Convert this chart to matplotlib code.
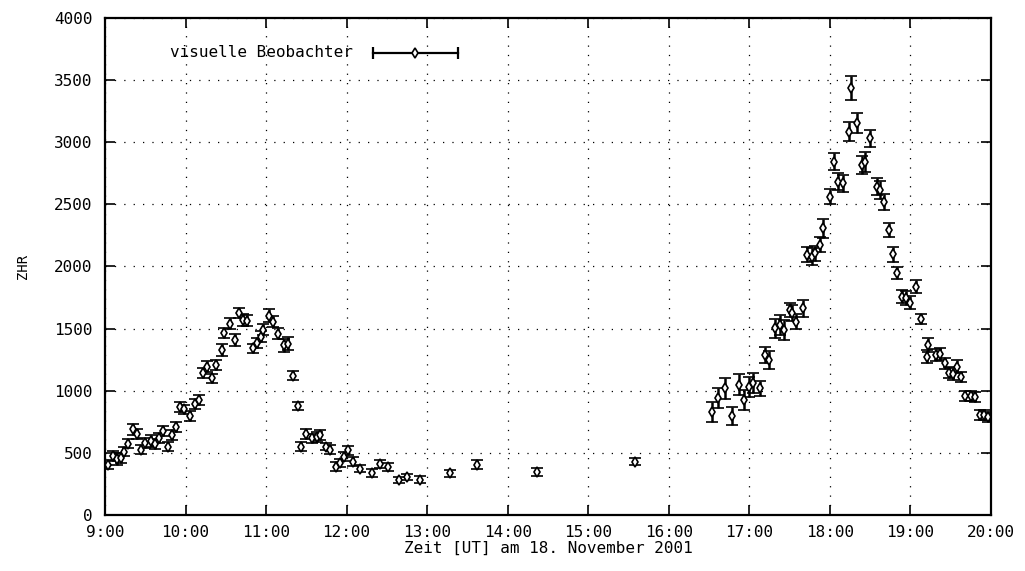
#!/usr/bin/env python3
# -*- coding: utf-8 -*-
"""ZHR der Leoniden 2001, visuelle Beobachtungen (gnuplot-Optik)"""

import matplotlib
matplotlib.use('Agg')
import matplotlib.pyplot as plt
from matplotlib.ticker import FixedLocator, FuncFormatter

# Zeitpunkte (UT) und ZHR mit Fehlern
times = [
    '9:02', '9:06', '9:09', '9:12', '9:14', '9:17', '9:21', '9:24', '9:27', '9:30',
    '9:34', '9:37', '9:40', '9:43', '9:47', '9:50', '9:53', '9:56', '9:59', '10:03',
    '10:07', '10:10', '10:13', '10:16', '10:20', '10:23', '10:27', '10:29', '10:33', '10:37',
    '10:40', '10:43', '10:46', '10:50', '10:53', '10:56', '10:58', '11:02', '11:05', '11:09',
    '11:13', '11:16', '11:20', '11:24', '11:26', '11:30', '11:34', '11:38', '11:40', '11:45',
    '11:48', '11:52', '11:55', '11:58', '12:01', '12:05', '12:10', '12:19', '12:25', '12:31',
    '12:39', '12:45', '12:55', '13:17', '13:37', '14:22', '15:35',
    '16:32', '16:37', '16:42', '16:47', '16:52', '16:56', '17:00', '17:03', '17:08', '17:12',
    '17:15', '17:19', '17:23', '17:26', '17:30', '17:32', '17:35', '17:40', '17:43', '17:47',
    '17:49', '17:53', '17:55', '18:00', '18:03', '18:06', '18:10', '18:14', '18:16', '18:20',
    '18:24', '18:26', '18:30', '18:35', '18:37', '18:40', '18:44', '18:47', '18:50', '18:54',
    '18:57', '19:00', '19:04', '19:08', '19:12', '19:13', '19:19', '19:22', '19:26', '19:29',
    '19:32', '19:35', '19:38', '19:41', '19:45', '19:48', '19:52', '19:55', '19:58',
]
zhr = [
    405, 475, 450, 460, 510, 575, 690, 650, 525, 578,
    595, 572, 622, 675, 550, 640, 710, 870, 850, 800,
    890, 925, 1140, 1195, 1100, 1207, 1330, 1465, 1540, 1410,
    1625, 1570, 1562, 1342, 1382, 1435, 1490, 1605, 1555, 1460,
    1365, 1380, 1121, 877, 550, 655, 618, 630, 645, 550,
    525, 390, 418, 470, 520, 430, 372, 338, 412, 388,
    282, 305, 285, 336, 405, 345, 430,
    832, 939, 1020, 797, 1047, 926, 1033, 1060, 1020, 1288,
    1248, 1503, 1530, 1489, 1650, 1624, 1556, 1664, 2093, 2080,
    2107, 2174, 2308, 2562, 2844, 2683, 2670, 3086, 3435, 3153,
    2818, 2844, 3032, 2643, 2616, 2522, 2294, 2100, 1946, 1757,
    1744, 1709, 1838, 1575, 1274, 1368, 1288, 1296, 1221, 1146,
    1135, 1194, 1108, 961, 961, 953, 805, 805, 791,
]
zhr_err = [
    35, 40, 45, 40, 35, 35, 45, 40, 35, 40,
    45, 40, 40, 40, 35, 40, 40, 40, 35, 40,
    40, 40, 40, 45, 35, 40, 50, 40, 45, 50,
    40, 45, 45, 35, 40, 45, 45, 50, 45, 45,
    50, 55, 35, 35, 35, 40, 35, 40, 40, 30,
    35, 35, 35, 35, 35, 35, 30, 30, 30, 30,
    25, 25, 25, 30, 35, 35, 25,
    80, 80, 85, 75, 85, 80, 80, 80, 60, 65,
    70, 75, 80, 80, 60, 65, 60, 70, 60, 65,
    60, 60, 75, 60, 70, 70, 70, 80, 95, 80,
    75, 80, 70, 70, 70, 65, 60, 60, 50, 50,
    55, 55, 55, 40, 50, 55, 45, 45, 45, 45,
    45, 55, 40, 40, 40, 40, 40, 40, 40,
]

hour_ticks = list(range(9, 21))
zhr_ticks = list(range(0, 4001, 500))
legend_label = 'visuelle Beobachter'


def to_hours(t):
    h, m = t.split(':')
    return int(h) + int(m) / 60.0


def plot_zhr():
    plt.rcParams['font.family'] = ['DejaVu Sans Mono']
    plt.rcParams['font.size'] = 11.5

    fig = plt.figure(figsize=(10.25, 5.71), dpi=100)
    ax = fig.add_axes([0.1024, 0.0981, 0.8644, 0.8704])

    x = [to_hours(t) for t in times]

    # Messpunkte mit Fehlerbalken, etwas kräftiger wie im Original
    ax.errorbar(x, zhr, yerr=zhr_err, fmt='d', color='black',
                markerfacecolor='white', markeredgecolor='black',
                markersize=5.5, markeredgewidth=1.2,
                ecolor='black', elinewidth=1.8, capsize=4, capthick=1.8)

    ax.set_xlim(9, 20)
    ax.set_ylim(0, 4000)

    ax.xaxis.set_major_locator(FixedLocator(hour_ticks))
    ax.xaxis.set_major_formatter(FuncFormatter(lambda v, pos: f'{int(v)}:00'))
    ax.yaxis.set_major_locator(FixedLocator(zhr_ticks))

    # gnuplot-artige Ticks: innen, gespiegelt
    ax.tick_params(axis='both', direction='in', length=7, width=1.2,
                   top=True, right=True, labelsize=11.5)
    ax.tick_params(axis='x', pad=7)
    ax.tick_params(axis='y', pad=9)

    ax.grid(True, color='black', linewidth=0.9, linestyle=(0, (1, 6.5)))
    ax.set_axisbelow(True)

    for spine in ax.spines.values():
        spine.set_linewidth(1.6)
        spine.set_edgecolor('black')

    ax.set_xlabel('Zeit [UT] am 18. November 2001', labelpad=1)
    ax.set_ylabel('ZHR', labelpad=17, fontsize=10)

    # Legende wie bei gnuplot: Text links, Balken rechts
    ly = 0.930
    ax.text(0.280, ly, legend_label, transform=ax.transAxes,
            ha='right', va='center')
    ax.plot([0.302, 0.398], [ly, ly], transform=ax.transAxes,
            color='black', linewidth=1.6, clip_on=False)
    ax.plot([0.302, 0.398], [ly, ly], transform=ax.transAxes, linestyle='none',
            marker='|', markersize=8, markeredgewidth=1.6, color='black')
    ax.plot([0.350], [ly], transform=ax.transAxes, linestyle='none',
            marker='d', markersize=5.5, markerfacecolor='white',
            markeredgecolor='black', markeredgewidth=1.2)

    fig.patch.set_facecolor('white')
    fig.savefig('out.png', dpi=100, facecolor='white')
    return fig


if __name__ == '__main__':
    plot_zhr()
